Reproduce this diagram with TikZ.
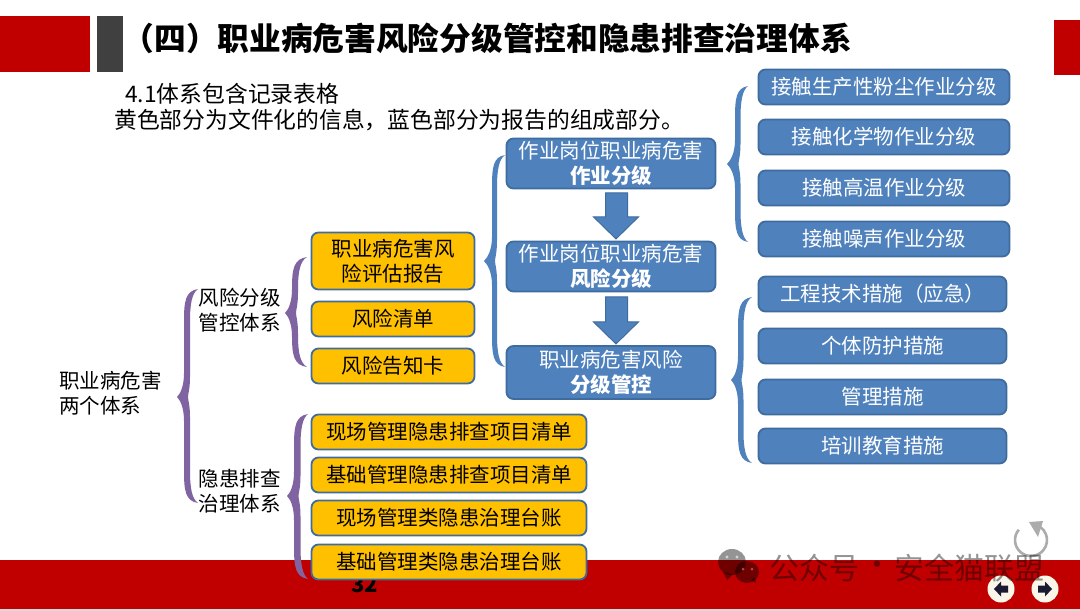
\documentclass[tikz,border=0pt]{standalone}
\usepackage{fontspec}
\setmainfont{Noto Sans CJK SC}
\usetikzlibrary{calc}
\definecolor{barred}{HTML}{C00000}
\definecolor{bargray}{HTML}{404040}
\definecolor{boxblue}{HTML}{4F81BD}
\definecolor{boxedge}{HTML}{3F6C9E}
\definecolor{boxyellow}{HTML}{FFC000}
\definecolor{bracepurple}{HTML}{8064A2}
\definecolor{navcream}{HTML}{FBF6EA}
\definecolor{navdark}{HTML}{1A1A33}
\newcommand{\bodysize}{\fontsize{20.5}{25}\selectfont}
% tip x, mid y, spine x, spine width, end x, top y, bottom y, colour
\newcommand{\curlybrace}[8]{%
\fill[#8] (#5,#6) .. controls ({#3+0.25*#4},{#6+2}) and (#3,{#6+12}) .. (#3,{#6+32})
 -- (#3,{#2-24}) .. controls (#3,{#2-10}) and ({#1+3},{#2-3}) .. (#1,#2)
 .. controls ({#1+3},{#2+3}) and (#3,{#2+10}) .. (#3,{#2+24})
 -- (#3,{#7-32}) .. controls (#3,{#7-12}) and ({#3+0.25*#4},{#7-2}) .. (#5,#7)
 .. controls ({#3+#4+2},{#7-4}) and ({#3+#4},{#7-15}) .. ({#3+#4},{#7-32})
 -- ({#3+#4},{#2+20}) .. controls ({#3+#4},{#2+8}) and ({#3+#4-2},{#2+3}) .. ({#3+#4-2},#2)
 .. controls ({#3+#4-2},{#2-3}) and ({#3+#4},{#2-8}) .. ({#3+#4},{#2-20})
 -- ({#3+#4},{#6+32}) .. controls ({#3+#4},{#6+15}) and ({#3+#4+2},{#6+4}) .. (#5,#6) -- cycle;}
\tikzset{
  x=1pt,y=-1pt,
  plain/.style={inner sep=0pt,align=center,text=black,font=\bodysize},
  bluebox/.style={draw=boxedge,line width=1.8pt,fill=boxblue,rounded corners=7pt,text=white,align=center,inner sep=0pt,font=\bodysize},
  yellowbox/.style={draw=boxedge,line width=1.8pt,fill=boxyellow,rounded corners=7pt,text=black,align=center,inner sep=0pt,font=\bodysize},
  sz/.style 2 args={minimum width=#1pt,minimum height=#2pt},
  blockarrow/.style={fill=boxblue,draw=boxedge,line width=1pt,line join=miter},
  mark text/.style={text=black,text opacity=0.42,inner sep=0pt,font=\fontsize{30}{32}\selectfont},
}
\begin{document}
\begin{tikzpicture}
\useasboundingbox (0,0) rectangle (1080,611);
\fill[white] (0,0) rectangle (1080,611);
% bars
\fill[gray!30] (0,609) rectangle (1080,611);
\fill[barred] (0,559.5) rectangle (1080,609);
\fill[barred] (0,16) rectangle (90,71.5);
\fill[bargray] (97,16) rectangle (123,71.5);
\fill[barred] (1054,20) rectangle (1080,75);
% title and intro
\node[anchor=west,inner sep=0pt,font=\fontsize{31.7}{34}\selectfont\bfseries] (title) at (122.5,38) {（四）职业病危害风险分级管控和隐患排查治理体系};
\node[anchor=west,inner sep=0pt,font=\fontsize{22.8}{26}\selectfont] (intro1) at (125,93.5) {4.1体系包含记录表格};
\node[anchor=west,inner sep=0pt,font=\fontsize{22.8}{26}\selectfont] (intro2) at (114,120.5) {黄色部分为文件化的信息，蓝色部分为报告的组成部分。};
% page number
\node[inner sep=0pt,font=\fontsize{22}{26}\selectfont\bfseries] (pageno) at (364.5,585) {32};
% left labels
\node[plain,align=left,anchor=west] (root) at (59,393) {职业病危害\\两个体系};
\node[plain] (risk) at (239.5,310) {风险分级\\管控体系};
\node[plain] (hazard) at (239.5,491) {隐患排查\\治理体系};
% yellow boxes
\node[yellowbox,sz={163}{57}] (y1) at (393,261) {职业病危害风\\险评估报告};
\node[yellowbox,sz={163}{35}] (y2) at (393,319) {风险清单};
\node[yellowbox,sz={163}{35}] (y3) at (393,366) {风险告知卡};
\node[yellowbox,sz={275}{35}] (l1) at (449,432) {现场管理隐患排查项目清单};
\node[yellowbox,sz={275}{35}] (l2) at (449,475) {基础管理隐患排查项目清单};
\node[yellowbox,sz={275}{35}] (l3) at (449,518) {现场管理类隐患治理台账};
\node[yellowbox,sz={275}{35}] (l4) at (449,562) {基础管理类隐患治理台账};
% middle boxes
\node[bluebox,sz={209}{50}] (m1) at (611,163.5) {作业岗位职业病危害\\\textbf{作业分级}};
\node[bluebox,sz={209}{50}] (m2) at (611,266.5) {作业岗位职业病危害\\\textbf{风险分级}};
\node[bluebox,sz={209}{53}] (m3) at (611,372.5) {职业病危害风险\\\textbf{分级管控}};
\draw[blockarrow,shift={(m1.south)}] (-5.5,3.5) -- (16.5,3.5) -- (16.5,27.5) -- (27.5,27.5) -- (5,49.5) -- (-17.5,27.5) -- (-5.5,27.5) -- cycle;
\draw[blockarrow,shift={(m2.south)}] (-5.5,4.5) -- (16.5,4.5) -- (16.5,29.5) -- (27.5,29.5) -- (5,51.5) -- (-17.5,29.5) -- (-5.5,29.5) -- cycle;
% right boxes
\node[bluebox,sz={251}{35}] (r1) at (884,87) {接触生产性粉尘作业分级};
\node[bluebox,sz={251}{35}] (r2) at (884,137) {接触化学物作业分级};
\node[bluebox,sz={251}{35}] (r3) at (884,188) {接触高温作业分级};
\node[bluebox,sz={251}{35}] (r4) at (884,239) {接触噪声作业分级};
\node[bluebox,sz={248}{35}] (s1) at (882.5,294) {工程技术措施（应急）};
\node[bluebox,sz={248}{35}] (s2) at (882.5,346) {个体防护措施};
\node[bluebox,sz={248}{35}] (s3) at (882.5,397) {管理措施};
\node[bluebox,sz={248}{35}] (s4) at (882.5,446) {培训教育措施};
% braces
\curlybrace{177}{397}{184}{6}{198}{289}{503}{bracepurple}
\curlybrace{285}{313}{292}{6}{307}{257}{367}{bracepurple}
\curlybrace{287}{496}{294}{6.5}{308}{414}{579}{bracepurple}
\curlybrace{484}{261}{492}{5}{505}{155}{367}{boxblue}
\curlybrace{727}{164}{735}{5.5}{748}{86}{242}{boxblue}
\curlybrace{731}{380}{738}{5.5}{752}{297}{463}{boxblue}
% nav buttons
\fill[navcream] (1001,589) circle (13.5);
\fill[navcream] (1045,589) circle (13.5);
\fill[navdark] (994,589) -- (1001,581.5) -- (1001,585.5) -- (1008,585.5) -- (1008,592.5) -- (1001,592.5) -- (1001,596.5) -- cycle;
\fill[navdark] (1052,589) -- (1045,581.5) -- (1045,585.5) -- (1038,585.5) -- (1038,592.5) -- (1045,592.5) -- (1045,596.5) -- cycle;
% circular arrow
\draw[gray!65,line width=2.6pt] (1031,540) ++(-140:16) arc[start angle=-140,end angle=-415,radius=16];
\fill[gray!65] (1029,522) -- (1043,521) -- (1038,537) -- cycle;
% watermark
\fill[black,opacity=0.42] (732,562) ellipse (14 and 13);
\fill[black,opacity=0.42] (723,572) -- (727,580) -- (733,574) -- cycle;
\fill[black,opacity=0.42] (747,572) ellipse (12 and 11);
\fill[black,opacity=0.42] (751,580) -- (756,583) -- (755,577) -- cycle;
\fill[white,opacity=0.6] (727,557) circle (1.7) (737,557) circle (1.7);
\fill[barred!60!white,opacity=0.7] (743,569) circle (1.5) (752,569) circle (1.5);
\node[mark text,anchor=west] (wm1) at (769,568) {公众号};
\node[mark text] (wmdot) at (877,568) {·};
\node[mark text,anchor=west] (wm2) at (894,568) {安全猫联盟};
\end{tikzpicture}
\end{document}
